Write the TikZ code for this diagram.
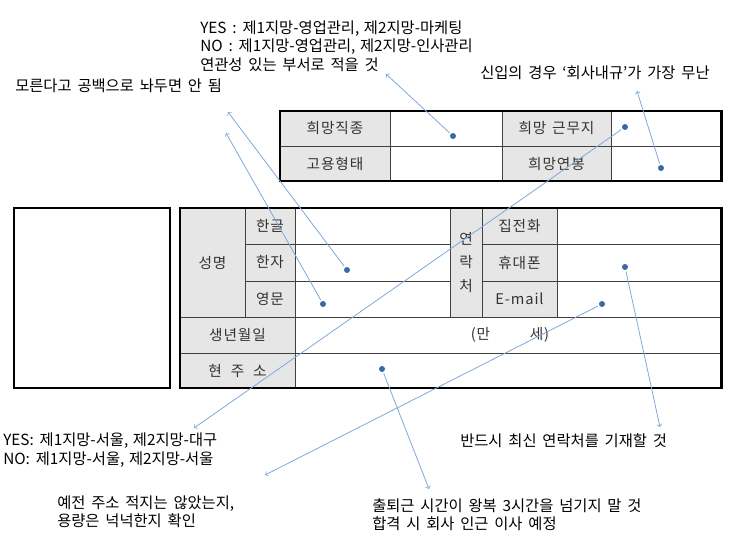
\documentclass[tikz,border=0pt]{standalone}
\usepackage{fontspec}
\setmainfont{Noto Sans CJK KR}
\newfontfamily\notefont[WordSpace=1.7]{Noto Sans CJK KR}
\newfontfamily\cellfont[LetterSpace=6]{Noto Sans CJK KR}
\usepackage{tikz}
\definecolor{cellgray}{HTML}{E6E6E6}
\definecolor{hintblue}{HTML}{80A8D8}
\definecolor{dotblue}{HTML}{3A6AA4}
\tikzset{
  note/.style={anchor=west, inner sep=0pt, align=left, font=\notefont\fontsize{11.5}{13.7}\selectfont},
  cell/.style={inner sep=0pt, text=black!80, font=\cellfont\fontsize{11}{13}\selectfont},
  pin/.style={circle, fill=dotblue, inner sep=0pt, minimum size=4.5pt},
  hint/.style={->, hintblue, line width=0.6pt, shorten <=1pt},
  rule/.style={black!75, line width=0.7pt},
  frame/.style={black, line width=2pt},
}
\begin{document}
\begin{tikzpicture}[x=0.75pt, y=-0.75pt]
\useasboundingbox (0,0) rectangle (740,539);
% wish table
\fill[cellgray] (280,111) rectangle (390,181);
\fill[cellgray] (502,111) rectangle (611,181);
\draw[rule] (280,146.5) -- (721.5,146.5);
\foreach \x in {390,502,611} \draw[rule] (\x,111) -- (\x,181);
\draw[frame] (280,111) rectangle (721.5,181);
\node[cell] (job)  at (335,128.5) {희망직종};
\node[cell] (emp)  at (335,164)   {고용형태};
\node[cell] (loc)  at (556.5,128.5) {희망\hspace{0.4em}근무지};
\node[cell] (pay)  at (556.5,164)   {희망연봉};
% photo box
\draw[frame] (14,208) rectangle (170,388);
% profile table
\fill[cellgray] (180,208) rectangle (295,388);
\fill[cellgray] (450.5,208) rectangle (557,317);
\draw[rule] (245,208) -- (245,317);
\draw[rule] (295,208) -- (295,388);
\draw[rule] (450.5,208) -- (450.5,317);
\draw[rule] (482,208) -- (482,317);
\draw[rule] (557,208) -- (557,317);
\draw[rule] (245,244.5) -- (450.5,244.5);
\draw[rule] (245,281) -- (450.5,281);
\draw[rule] (482,244.5) -- (721.5,244.5);
\draw[rule] (482,281) -- (721.5,281);
\draw[rule] (180,317) -- (721.5,317);
\draw[rule] (180,353) -- (721.5,353);
\draw[frame] (180,208) rectangle (721.5,388);
\node[cell] (name) at (212.5,262.5) {성명};
\node[cell] (hang) at (270,226)   {한글};
\node[cell] (hanj) at (270,262.5) {한자};
\node[cell] (engn) at (270,299)   {영문};
\node[cell] (birth) at (237.5,335) {생년월일};
\node[cell] (addr) at (237.5,370.5) {현\hspace{0.6em}주\hspace{0.6em}소};
\node[cell, align=center, font=\cellfont\fontsize{11}{17.5}\selectfont] (cont) at (466.2,262.5) {연\\락\\처};
\node[cell] (home) at (519.5,226)   {집전화};
\node[cell] (cell) at (519.5,262.5) {휴대폰};
\node[cell] (mail) at (519.5,299)   {E-mail};
\node[cell] (age)  at (510,335) {(만\hspace{2.7em}세)};
% dots
\node[pin] (d_job)  at (453,136) {};
\node[pin] (d_loc)  at (625,127) {};
\node[pin] (d_pay)  at (661,168) {};
\node[pin] (d_hanj) at (347,270) {};
\node[pin] (d_engn) at (323,304) {};
\node[pin] (d_cell) at (625,267) {};
\node[pin] (d_mail) at (602,304) {};
\node[pin] (d_addr) at (382,369) {};
% notes
\node[note] (n_job) at (200,46) {YES : 제1지망-영업관리,\hspace{0.3em}제2지망-마케팅\\NO : 제1지망-영업관리,\hspace{0.3em}제2지망-인사관리\\연관성 있는 부서로 적을 것};
\node[note] (n_blank) at (15,86) {모른다고 공백으로 놔두면 안 됨};
\node[note] (n_pay) at (480,73) {신입의 경우 ‘회사내규’가 가장 무난};
\node[note] (n_loc) at (3,450) {YES: 제1지망-서울,\hspace{0.3em}제2지망-대구\\NO: 제1지망-서울,\hspace{0.3em}제2지망-서울};
\node[note] (n_cell) at (460,441) {반드시 최신 연락처를 기재할 것};
\node[note] (n_mail) at (57,512) {예전 주소 적지는 않았는지,\\용량은 넉넉한지 확인};
\node[note] (n_addr) at (372,515) {출퇴근 시간이 왕복 3시간을 넘기지 말 것\\합격 시 회사 인근 이사 예정};
% arrow tips
\coordinate (t_job)  at (386,74);
\coordinate (t_loc)  at (194,428);
\coordinate (t_pay)  at (637,91);
\coordinate (t_hanj) at (228,112);
\coordinate (t_engn) at (226,133);
\coordinate (t_cell) at (660,427);
\coordinate (t_mail) at (265,475);
\coordinate (t_addr) at (429,489);
% hints
\draw[hint] (d_job)  -- (t_job);
\draw[hint] (d_loc)  -- (t_loc);
\draw[hint] (d_pay)  -- (t_pay);
\draw[hint] (d_hanj) -- (t_hanj);
\draw[hint] (d_engn) -- (t_engn);
\draw[hint] (d_cell) -- (t_cell);
\draw[hint] (d_mail) -- (t_mail);
\draw[hint] (d_addr) -- (t_addr);
\end{tikzpicture}
\end{document}
